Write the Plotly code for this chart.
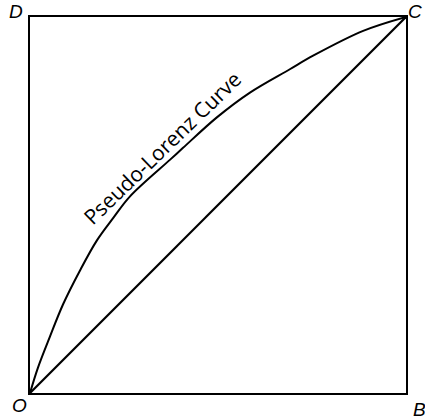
import plotly.graph_objects as go

# Pseudo-Lorenz curve (cumulative share)
curve_x = [0, 0.021, 0.053, 0.088, 0.133, 0.178, 0.221, 0.266, 0.372, 0.407, 0.497, 0.585, 0.691, 0.753, 0.886, 1.0]
curve_y = [0, 0.067, 0.150, 0.236, 0.326, 0.406, 0.465, 0.523, 0.620, 0.652, 0.733, 0.799, 0.861, 0.897, 0.963, 1.0]

# Line of equality O -> C
diag_x = [0, 1]
diag_y = [0, 1]

curve_label = "Pseudo-Lorenz Curve"
corner_labels = ["D", "C", "O", "B"]

fig = go.Figure()
fig.add_trace(go.Scatter(x=curve_x, y=curve_y, mode="lines", line_shape="spline",
                         line=dict(color="black", width=2), hoverinfo="skip"))
fig.add_trace(go.Scatter(x=diag_x, y=diag_y, mode="lines",
                         line=dict(color="black", width=2.2), hoverinfo="skip"))

W, H = 425, 420
L, T = 30, 17
R = W - 406
B = H - 393
pw, ph = W - L - R, H - T - B

def px2paper(px, py):
    return (px - L) / pw, (H - B - py) / ph

corner_pos = [(16, 12), (415, 12), (19, 405), (419, 409)]
lab_font = dict(family="Liberation Sans, Arial", size=19, color="black")
annotations = []
for lab, (px, py) in zip(corner_labels, corner_pos):
    xp, yp = px2paper(px, py)
    annotations.append(dict(x=xp, y=yp, xref="paper", yref="paper", text=f"<i>{lab}</i>",
                            showarrow=False, font=lab_font, xanchor="center", yanchor="middle"))

tx, ty = px2paper(162, 148)
annotations.append(dict(x=tx, y=ty, xref="paper", yref="paper", text=curve_label,
                        showarrow=False, textangle=-44,
                        font=dict(family="Open Sans", size=21, color="black")))

fig.update_layout(
    width=W, height=H,
    margin=dict(l=L, r=R, t=T, b=B),
    paper_bgcolor="white", plot_bgcolor="white",
    showlegend=False,
    annotations=annotations,
    xaxis=dict(range=[0, 1], showgrid=False, zeroline=False, showticklabels=False, ticks="",
               showline=True, mirror=True, linecolor="black", linewidth=2, fixedrange=True),
    yaxis=dict(range=[0, 1], showgrid=False, zeroline=False, showticklabels=False, ticks="",
               showline=True, mirror=True, linecolor="black", linewidth=2, fixedrange=True),
)

fig.write_html("out.html", config={"displayModeBar": False},
               post_script="document.body.style.margin='0';document.body.style.overflow='hidden';")
